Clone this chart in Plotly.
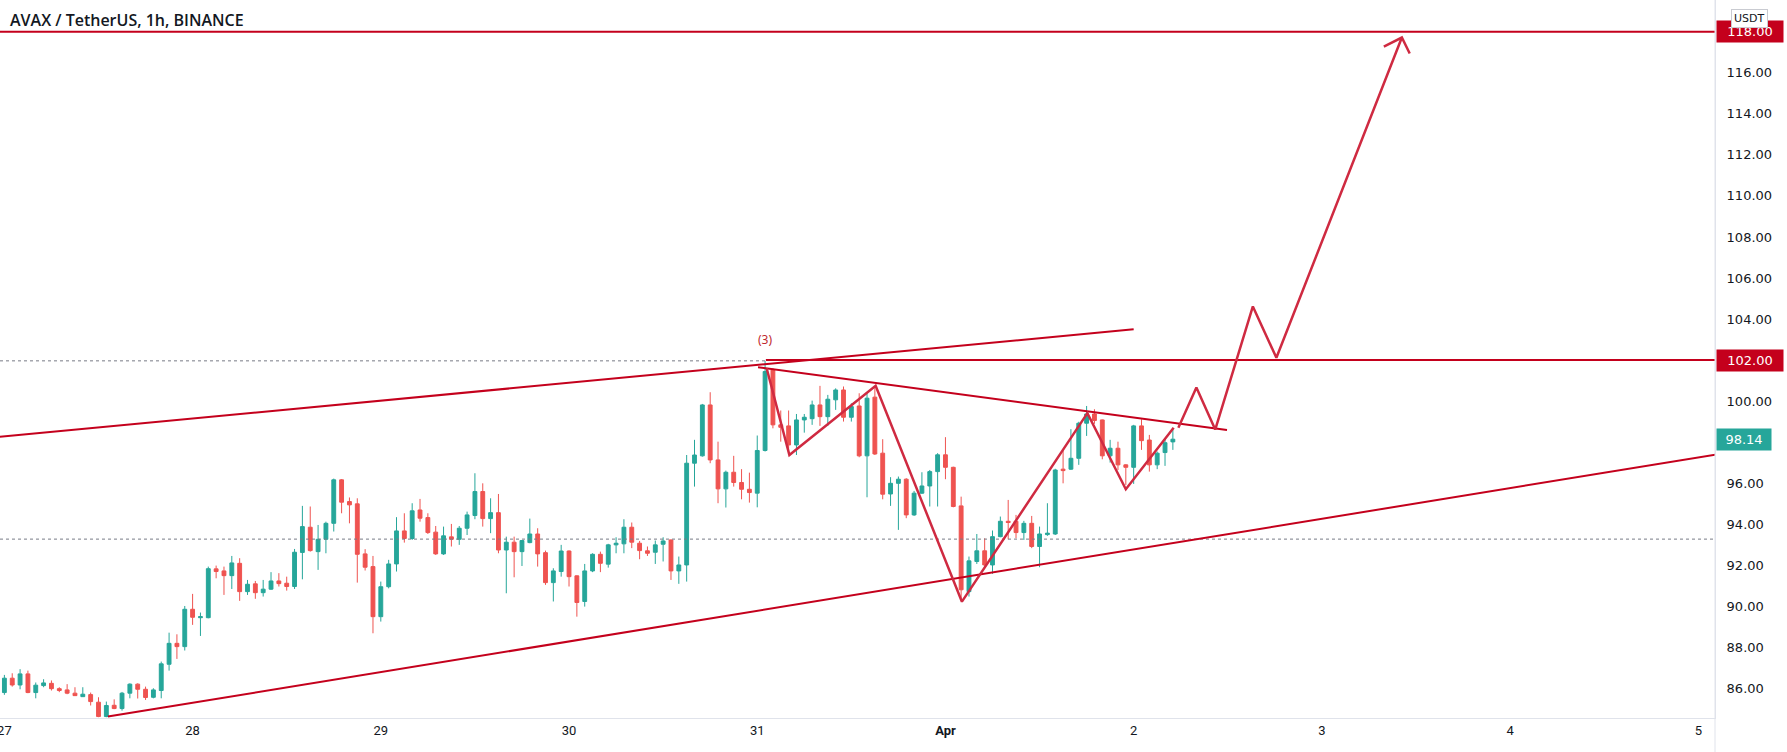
import pandas as pd
import plotly.graph_objects as go

# AVAX/USDT 1h candles, first bar = 2022-03-27 00:00
START = pd.Timestamp("2022-03-27 00:00")

opens = [85.79, 86.49, 86.16, 86.70, 85.79, 86.13, 86.24, 85.98, 85.92, 85.76,
         85.59, 85.69, 85.32, 84.62, 85.17, 85.01, 85.76, 86.20, 85.95, 85.56,
         85.89, 87.17, 88.19, 88.03, 89.85, 89.44, 89.44, 91.82, 91.72, 91.49,
         92.09, 90.71, 91.09, 90.66, 90.83, 91.23, 91.12, 90.96, 92.62, 93.85,
         92.66, 93.26, 94.04, 96.16, 95.10, 94.99, 92.55, 91.93, 89.49, 90.95,
         92.06, 93.67, 93.30, 94.69, 94.32, 93.61, 92.55, 93.38, 93.26, 93.80,
         94.42, 95.59, 94.27, 94.56, 92.74, 93.12, 92.66, 93.10, 93.52, 92.61,
         91.15, 91.69, 92.69, 91.48, 90.23, 91.72, 92.53, 92.05, 92.99, 93.04,
         93.85, 93.07, 92.70, 92.63, 93.02, 93.23, 91.72, 92.01, 96.97, 97.33,
         99.81, 97.13, 95.72, 96.53, 96.03, 95.70, 95.51, 97.59, 101.52, 98.84,
         98.79, 97.86, 99.08, 99.14, 99.81, 99.24, 100.06, 100.54, 99.21, 99.76,
         97.33, 100.19, 97.46, 95.47, 95.99, 96.19, 94.45, 95.51, 95.86, 96.56,
         97.38, 96.77, 94.89, 90.71, 92.18, 92.70, 92.01, 93.39, 94.14, 94.14,
         93.59, 94.04, 92.91, 93.49, 93.52, 96.68, 96.68, 97.21, 98.92, 99.37,
         99.08, 97.33, 97.70, 96.89, 96.77, 98.79, 98.10, 96.89, 97.49, 98.01]
highs = [86.65, 86.73, 86.93, 86.86, 86.28, 86.44, 86.38, 86.05, 86.20, 86.05,
         86.05, 85.79, 85.56, 85.35, 85.46, 85.82, 86.24, 86.24, 86.08, 86.00,
         87.30, 88.71, 88.63, 90.01, 90.60, 89.69, 91.93, 91.98, 91.93, 92.45,
         92.34, 91.28, 91.23, 91.28, 91.66, 91.61, 91.44, 92.79, 94.89, 94.86,
         93.96, 94.12, 96.22, 96.20, 95.30, 95.26, 92.78, 92.45, 91.20, 92.26,
         94.34, 94.53, 95.02, 95.23, 94.53, 93.91, 93.88, 94.01, 93.91, 94.61,
         96.48, 95.99, 95.26, 95.47, 93.39, 93.39, 93.23, 94.27, 93.80, 92.71,
         91.85, 92.99, 92.72, 91.50, 92.06, 92.58, 92.66, 93.04, 93.36, 94.24,
         94.08, 93.18, 92.91, 93.20, 93.36, 93.25, 92.42, 97.37, 98.11, 99.86,
         100.43, 98.02, 96.61, 97.33, 96.68, 96.51, 98.32, 101.95, 101.60, 99.54,
         99.54, 99.37, 99.37, 100.02, 100.74, 100.30, 100.62, 100.71, 99.89, 100.38,
         100.38, 100.71, 98.14, 96.29, 96.32, 96.24, 95.62, 96.53, 96.64, 97.46,
         98.24, 96.80, 95.34, 92.42, 93.52, 93.31, 93.69, 94.37, 95.18, 94.45,
         94.16, 94.40, 93.88, 95.02, 96.70, 97.59, 98.63, 98.99, 99.76, 99.60,
         99.10, 98.11, 98.02, 96.92, 98.84, 99.11, 98.35, 97.54, 98.19, 98.59]
lows = [85.68, 86.08, 85.95, 85.76, 85.51, 86.05, 85.89, 85.81, 85.71, 85.63,
        85.58, 85.16, 84.59, 84.59, 84.98, 84.91, 85.51, 85.50, 85.43, 85.51,
        85.51, 86.86, 87.43, 87.84, 89.09, 88.55, 89.41, 91.36, 90.55, 90.84,
        90.26, 90.55, 90.36, 90.47, 90.79, 90.96, 90.76, 90.84, 91.31, 92.66,
        91.77, 92.58, 93.64, 94.53, 94.04, 91.15, 91.74, 88.68, 89.25, 90.87,
        91.69, 93.10, 93.23, 94.12, 93.52, 92.50, 92.50, 92.91, 92.99, 93.47,
        94.24, 93.88, 93.56, 92.58, 90.63, 91.41, 91.96, 93.07, 91.93, 91.04,
        90.23, 91.44, 90.96, 89.49, 89.98, 91.66, 91.66, 91.88, 92.58, 92.58,
        92.83, 92.29, 92.45, 92.06, 92.18, 91.28, 91.09, 91.20, 95.83, 97.29,
        96.97, 95.02, 94.81, 95.83, 95.21, 95.05, 94.82, 97.54, 98.67, 98.02,
        97.37, 97.37, 98.46, 98.84, 98.79, 98.79, 99.57, 99.00, 99.00, 97.26,
        95.31, 97.37, 95.21, 94.89, 93.72, 94.29, 94.40, 95.47, 94.86, 94.86,
        96.19, 94.82, 90.39, 90.47, 92.06, 91.85, 91.58, 93.36, 93.26, 93.31,
        93.23, 92.83, 91.90, 93.43, 93.47, 95.99, 96.64, 96.89, 98.30, 98.89,
        97.16, 97.00, 96.64, 95.91, 95.96, 97.62, 96.56, 96.68, 96.84, 97.62]
closes = [86.49, 86.16, 86.70, 85.79, 86.15, 86.26, 85.98, 85.89, 85.76, 85.64,
          85.71, 85.35, 84.62, 85.16, 85.01, 85.76, 86.20, 85.95, 85.55, 85.92,
          87.19, 88.19, 88.03, 89.85, 89.46, 89.49, 91.83, 91.69, 91.49, 92.11,
          90.71, 91.07, 90.66, 90.83, 91.23, 91.10, 90.96, 92.63, 93.88, 92.71,
          93.26, 94.04, 96.16, 95.07, 94.94, 92.53, 91.90, 89.49, 90.95, 92.06,
          93.67, 93.30, 94.65, 94.29, 93.59, 92.55, 93.43, 93.26, 93.80, 94.45,
          95.59, 94.27, 94.56, 92.74, 93.12, 92.66, 93.20, 93.52, 92.55, 91.15,
          91.72, 92.69, 91.44, 90.18, 91.72, 92.53, 92.09, 92.99, 93.07, 93.85,
          93.12, 92.71, 92.58, 92.99, 93.18, 91.72, 92.01, 96.97, 97.37, 99.81,
          97.13, 95.72, 96.53, 96.03, 95.70, 95.54, 97.59, 101.44, 98.84, 98.72,
          97.86, 99.08, 99.21, 99.81, 99.24, 100.09, 100.54, 99.21, 99.73, 97.33,
          100.14, 97.42, 95.46, 95.99, 96.19, 94.45, 95.51, 95.86, 96.56, 97.38,
          96.77, 94.86, 90.80, 92.21, 92.70, 92.01, 93.39, 94.14, 94.08, 93.59,
          94.04, 92.91, 93.52, 93.56, 96.64, 96.61, 97.21, 98.92, 99.37, 99.05,
          97.33, 97.70, 96.89, 96.77, 98.79, 98.07, 96.89, 97.46, 97.97, 98.14]

last_price = 98.14

# drawings: hours after START, price
upper_ch_h = [-0.6, 144.0]
upper_ch_p = [98.26, 103.50]
lower_ch_h = [13.2, 220.0]
lower_ch_p = [84.62, 97.50]
desc_line_h = [96.1, 155.9]
desc_line_p = [101.65, 98.59]
wave_h = [97.2, 100.1, 111.1, 122.1, 138.1, 143.0, 149.1]
wave_p = [101.6, 97.37, 100.74, 90.22, 99.41, 95.70, 98.70]
proj_h = [149.7, 152.0, 154.4, 159.2, 162.2, 178.2]
proj_p = [98.70, 100.66, 98.61, 104.61, 102.11, 117.72]
arrow_h = [175.9, 178.2, 179.2]
arrow_p = [117.28, 117.72, 116.94]
wave_label = "(3)"
wave_label_h, wave_label_p = 97.0, 103.0

high_level = 101.96       # dotted, up to the wave-3 top
target_1 = 102.00
target_2 = 118.00
support_dotted = 93.27

day_ticks = ["2022-03-27", "2022-03-28", "2022-03-29", "2022-03-30", "2022-03-31",
             "2022-04-01", "2022-04-02", "2022-04-03", "2022-04-04", "2022-04-05"]
day_labels = ["27", "28", "29", "30", "31", "<b>Apr</b>", "2", "3", "4", "5"]
price_ticks = [86, 88, 90, 92, 94, 96, 100, 104, 106, 108, 110, 112, 114, 116]

RED = "#c4001c"
WAVE = "#cf2a41"
GREEN = "#26a69a"
CANDLE_RED = "#ef5350"
TEXT = "#131722"
AXIS = "#e0e3eb"


def t(h):
    return START + pd.to_timedelta(h, unit="h")


def tl(hs):
    return [t(h) for h in hs]


x_min, x_max = t(-0.56), t(218.13)
y_min, y_max = 84.55, 119.55

times = pd.date_range(START, periods=len(opens), freq="h")

fig = go.Figure()

# reference levels
fig.add_trace(go.Scatter(x=[x_min, t(97.1)], y=[high_level] * 2, mode="lines",
                         line=dict(color="#787b86", width=1, dash="dot")))
fig.add_trace(go.Scatter(x=[x_min, x_max], y=[support_dotted] * 2, mode="lines",
                         line=dict(color="#787b86", width=1, dash="dot")))
fig.add_trace(go.Scatter(x=[t(97.1), x_max], y=[target_1] * 2, mode="lines",
                         line=dict(color=RED, width=2)))
fig.add_trace(go.Scatter(x=[x_min, x_max], y=[target_2] * 2, mode="lines",
                         line=dict(color=RED, width=2)))

fig.add_trace(go.Candlestick(
    x=times, open=opens, high=highs, low=lows, close=closes,
    increasing=dict(line=dict(color=GREEN, width=1), fillcolor=GREEN),
    decreasing=dict(line=dict(color=CANDLE_RED, width=1), fillcolor=CANDLE_RED),
    whiskerwidth=0,
))

# channel + triangle
fig.add_trace(go.Scatter(x=tl(upper_ch_h), y=upper_ch_p, mode="lines",
                         line=dict(color=RED, width=2)))
fig.add_trace(go.Scatter(x=tl(lower_ch_h), y=lower_ch_p, mode="lines",
                         line=dict(color=RED, width=2)))
fig.add_trace(go.Scatter(x=tl(desc_line_h), y=desc_line_p, mode="lines",
                         line=dict(color=RED, width=2)))

# wave path and projection
for hs, ps in [(wave_h, wave_p), (proj_h, proj_p), (arrow_h, arrow_p)]:
    fig.add_trace(go.Scatter(x=tl(hs), y=ps, mode="lines",
                             line=dict(color=WAVE, width=2.5)))

fig.add_annotation(x=t(wave_label_h), y=wave_label_p, text=wave_label, showarrow=False,
                   font=dict(family="Noto Sans", size=12, color="#c0282e"))

# title
fig.add_annotation(xref="paper", yref="paper", x=0, y=1, xanchor="left", yanchor="top",
                   xshift=8, yshift=-7, showarrow=False,
                   text="AVAX / TetherUS, 1h, BINANCE",
                   font=dict(family="Open Sans", size=16, color=TEXT, weight=600))

# price labels on the axis
for val, col, w in [(target_2, RED, 60), (target_1, RED, 60), (last_price, GREEN, 48)]:
    fig.add_annotation(xref="paper", yref="y", x=1, y=val, xanchor="left", yanchor="middle",
                       xshift=1, showarrow=False, text=f"{val:.2f}",
                       bgcolor=col, borderpad=3, width=w,
                       font=dict(family="DejaVu Sans", size=13, color="white"))

fig.add_annotation(xref="paper", yref="paper", x=1, y=1, xanchor="left", yanchor="top",
                   xshift=16, yshift=-9, showarrow=False, text="USDT",
                   bgcolor="white", bordercolor="#c9cbd1", borderwidth=1, borderpad=2,
                   font=dict(family="DejaVu Sans", size=11, color=TEXT))

# price-scale separator runs down to the bottom of the picture
fig.add_shape(type="line", xref="paper", yref="paper", x0=1, x1=1, y0=-0.06, y1=1,
              line=dict(color=AXIS, width=1))

fig.update_layout(
    width=1787, height=752,
    margin=dict(l=0, r=72, t=0, b=34),
    paper_bgcolor="white", plot_bgcolor="white",
    showlegend=False,
    xaxis=dict(type="date", range=[x_min, x_max], rangeslider=dict(visible=False),
               showgrid=False, zeroline=False, showline=True, linecolor=AXIS,
               tickvals=day_ticks, ticktext=day_labels, ticks="",
               ticklabeloverflow="allow", automargin=False,
               tickfont=dict(family="Roboto", size=13, color=TEXT)),
    yaxis=dict(side="right", range=[y_min, y_max], showgrid=False, zeroline=False,
               showline=True, linecolor=AXIS, automargin=False,
               tickvals=price_ticks, ticktext=[f"{v:.2f}" for v in price_ticks],
               ticks="outside", ticklen=8, tickcolor="rgba(0,0,0,0)",
               tickfont=dict(family="DejaVu Sans", size=13, color=TEXT)),
)

fig.write_html("out.html", config={"displayModeBar": False},
               post_script="document.body.style.margin='0px';")
